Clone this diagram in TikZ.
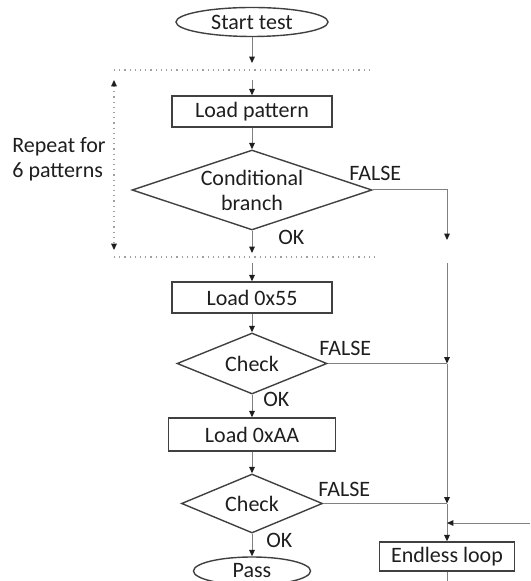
\documentclass[tikz,border=0pt]{standalone}
\usepackage{fontspec}
\setmainfont{Carlito}
\usetikzlibrary{shapes.geometric,arrows.meta,positioning}

\definecolor{ink}{HTML}{1E1E1E}
\definecolor{edgegray}{HTML}{404040}
\definecolor{wiregray}{HTML}{808080}
\definecolor{dotgray}{HTML}{A0A0A0}

\tikzset{
  every node/.style={font=\fontsize{11}{12.5}\selectfont, text=ink},
  terminal/.style={ellipse, draw=edgegray, line width=0.7pt, inner sep=0pt},
  process/.style={rectangle, draw=edgegray, line width=0.7pt, inner sep=0pt},
  decision/.style={diamond, draw=edgegray, line width=0.7pt, inner sep=0pt, align=center},
  tag/.style={inner sep=0pt, anchor=base west},
  wire/.style={draw=wiregray, line width=0.5pt},
  tip/.tip={Triangle[length=3.2pt, width=2.8pt, color=ink]},
  flow/.style={wire, -tip},
  loopmark/.style={draw=dotgray, dotted, line width=0.6pt},
}

\begin{document}
\begin{tikzpicture}[x=0.5pt, y=-0.5pt, on grid]
\clip (0,0) rectangle (530,581);

% main column
\node[terminal, minimum width=76pt, minimum height=14.5pt] (start) at (252,22) {Start test};
\node[process, minimum width=80pt, minimum height=15.5pt] (pattern) [below=44.75pt of start] {Load pattern};
\node[decision, shape aspect=3, minimum width=120pt, minimum height=40pt] (cond) [below=39.25pt of pattern] {Conditional\\branch};
\node[process, minimum width=80pt, minimum height=15.5pt] (load55) [below=53.75pt of cond] {Load 0x55};
\node[decision, shape aspect=2.4, minimum width=75pt, minimum height=30.5pt] (check1) [below=33pt of load55] {Check};
\node[process, minimum width=83.5pt, minimum height=16.5pt] (loadAA) [below=35.5pt of check1] {Load 0xAA};
\node[decision, shape aspect=2.4, minimum width=70.5pt, minimum height=29.5pt] (check2) [below=34.5pt of loadAA] {Check};
\node[terminal, minimum width=58.5pt, minimum height=14pt] (pass) [below=33.75pt of check2] {Pass};
\node[process, minimum width=67.5pt, minimum height=14.5pt] (endless) at (447,556.5) {Endless loop};

% repeat block
\node[anchor=west, align=left, inner sep=0pt] (repeat) at (12,159) {Repeat for\\6 patterns};
\coordinate (top l) at (114,70);
\coordinate (top r) at (373,70);
\coordinate (bot l) at (114,257);
\coordinate (bot r) at (378,257);
\draw[loopmark] (top l) -- (top r);
\draw[loopmark] (bot l) -- (bot r);
\draw[loopmark, tip-tip] (114,80) -- (114,250);

% gaps at the dotted lines
\coordinate (c1) at (252,63);
\coordinate (c2) at (252,80);
\coordinate (c3) at (252,253);
\coordinate (c4) at (252,263);

% failure rail
\coordinate (fa) at (447,240);
\coordinate (fb) at (447,263);
\coordinate (j1) at (check1.east -| fa);
\coordinate (j2) at (check2.east -| fa);
\coordinate (j3) at (447,523);
\coordinate (re) at (530,523);
\coordinate (lb) at (447,581);

\draw[flow] (start) -- (c1);
\draw[flow] (c2) -- (pattern);
\draw[flow] (pattern) -- (cond);
\draw[flow] (cond) -- (c3);
\draw[flow] (c4) -- (load55);
\draw[flow] (load55) -- (check1);
\draw[flow] (check1) -- (loadAA);
\draw[flow] (loadAA) -- (check2);
\draw[flow] (check2) -- (pass);

\draw[flow] (cond.east) -| (fa);
\draw[flow] (fb) -- (j1);
\draw[wire] (check1.east) -- (j1);
\draw[flow] (j1) -- (j2);
\draw[wire] (check2.east) -- (j2);
\draw[wire] (j2) -- (j3);
\draw[flow] (j3) -- (endless);
\draw[flow] (re) -- (j3);
\draw[wire] (endless) -- (lb);

% branch labels
\node[tag] (f0) at (349,181) {FALSE};
\node[tag] (f1) at (319,356) {FALSE};
\node[tag] (f2) at (318,496) {FALSE};
\node[tag] (k0) at (278,245) {OK};
\node[tag] (k1) at (263,406) {OK};
\node[tag] (k2) at (266,547.5) {OK};
\end{tikzpicture}
\end{document}
